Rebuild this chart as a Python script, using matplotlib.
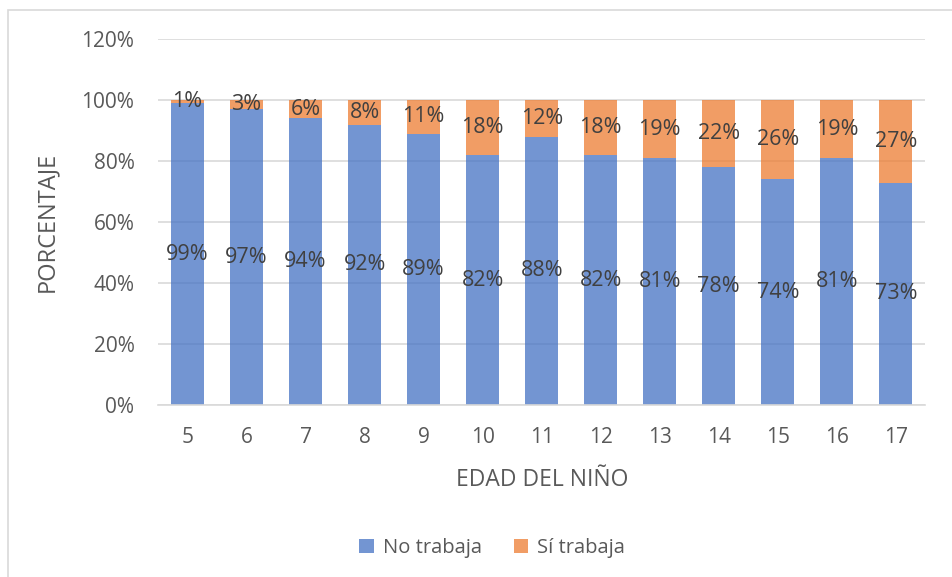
# Stacked 100% bars: working children by age
import numpy as np
import matplotlib
matplotlib.use("Agg")
import matplotlib.pyplot as plt
from matplotlib.patches import Rectangle

ages = ["5", "6", "7", "8", "9", "10", "11", "12", "13", "14", "15", "16", "17"]
no_trabaja = [99, 97, 94, 92, 89, 82, 88, 82, 81, 78, 74, 81, 73]
si_trabaja = [1, 3, 6, 8, 11, 18, 12, 18, 19, 22, 26, 19, 27]

plt.rcParams["font.family"] = ["Open Sans", "DejaVu Sans"]
TXT = "#404040"
TICK = "#595959"

fig = plt.figure(figsize=(9.52, 5.77), dpi=100)
ax = fig.add_axes([0.166, 0.298, 0.806, 0.634])

x = np.arange(len(ages))
no = np.array(no_trabaja) / 100
si = np.array(si_trabaja) / 100
w = 0.56
ax.bar(x, no, w, color="#4472C4", alpha=0.75, label="No trabaja", zorder=2)
ax.bar(x, si, w, bottom=no, color="#ED7D31", alpha=0.75, label="Sí trabaja", zorder=2)

for xi, a, b in zip(x, no, si):
    ax.text(xi, a / 2, f"{a*100:.0f}%", ha="center", va="center", fontsize=15.5, color=TXT, zorder=3)
    ax.text(xi, a + b / 2, f"{b*100:.0f}%", ha="center", va="center", fontsize=15.5, color=TXT, zorder=3)

ax.set_xlim(-0.5, len(ages) - 0.5)
ax.set_ylim(0, 1.2)
ax.set_yticks(np.arange(0, 1.21, 0.2))
ax.set_yticklabels([f"{v:.0f}%" for v in np.arange(0, 121, 20)])
ax.set_xticks(x)
ax.set_xticklabels(ages)
ax.tick_params(length=0, labelsize=15, colors=TICK)
ax.tick_params(axis="x", pad=16)
ax.tick_params(axis="y", pad=17)
ax.grid(axis="y", color="#D9D9D9", linewidth=1.2, zorder=0)
for s in ["top", "right", "left"]:
    ax.spines[s].set_visible(False)
ax.spines["bottom"].set_color("#D9D9D9")
ax.spines["bottom"].set_linewidth(1.2)

ax.set_xlabel("EDAD DEL NIÑO", fontsize=16.5, color=TICK, labelpad=14)
ax.set_ylabel("PORCENTAJE", fontsize=17, color=TICK, labelpad=16)

fig.legend(loc="center", bbox_to_anchor=(0.517, 0.05), ncol=2, frameon=False,
           fontsize=14.5, labelcolor=TICK, handlelength=0.7, handleheight=0.7,
           columnspacing=1.6, handletextpad=0.45)

fig.patches.append(Rectangle((8 / 952, -0.05), 1.0, 1 - 10 / 577 + 0.05,
                             transform=fig.transFigure, fill=False,
                             edgecolor="#D9D9D9", linewidth=1.2))

fig.savefig("out.png", dpi=100)
